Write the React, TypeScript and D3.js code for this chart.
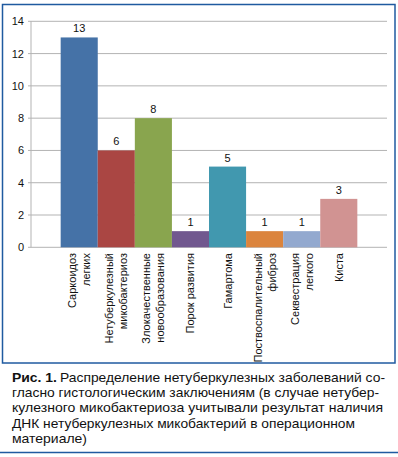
import * as d3 from 'd3'
import React from 'react'

// categories (two-line labels split by '|')
const categories = [
  'Саркоидоз|легких',
  'Нетуберкулезный|микобактериоз',
  'Злокачественные|новообразования',
  'Порок развития',
  'Гамартома',
  'Поствоспалительный|фиброз',
  'Секвестрация|легкого',
  'Киста',
]
const values = [13, 6, 8, 1, 5, 1, 1, 3]
const barColors = ['#4572a7', '#aa4643', '#89a54e', '#71588f', '#4198af', '#db843d', '#93a9cf', '#d19392']
const yTicks = [0, 2, 4, 6, 8, 10, 12, 14]

// caption lines with their target right edge
const captionLines = [
  { text: 'Распределение нетуберкулезных заболеваний со-', end: 385 },
  { text: 'гласно гистологическим заключениям (в случае нетубер-', end: 379 },
  { text: 'кулезного микобактериоза учитывали результат наличия', end: 383 },
  { text: 'ДНК нетуберкулезных микобактерий в операционном', end: 355 },
  { text: 'материале)', end: 87 },
]

const font = '"Liberation Sans", Arial, sans-serif'

export default function App() {
  const left = 31
  const right = 387
  const top = 21.3
  const bottom = 247.3

  const x = d3.scaleBand<string>().domain(categories).range([left, right]).paddingInner(0).paddingOuter(0.8)
  const y = d3.scaleLinear().domain([0, 14]).range([bottom, top])

  return (
    <svg width={398} height={457} style={{ position: 'absolute', left: 0, top: 0, background: '#fff' }}>
      {/* frame */}
      <rect x={2.5} y={4.5} width={392.5} height={358.5} fill="none" stroke="#1f5aa0" strokeWidth={1.5} />

      {/* grid */}
      {yTicks.map(t => (
        <g key={t}>
          <line x1={left - 3} x2={right} y1={y(t)} y2={y(t)} stroke="#b3b3b3" strokeWidth={1} />
          <text x={24} y={y(t) + 4} textAnchor="end" fontFamily={font} fontSize={11} fill="#111">
            {t}
          </text>
        </g>
      ))}
      <line x1={left} x2={left} y1={top} y2={bottom} stroke="#b3b3b3" strokeWidth={1} />

      {/* bars */}
      {categories.map((c, i) => (
        <g key={c}>
          <rect x={x(c)} y={y(values[i])} width={x.bandwidth()} height={bottom - y(values[i])} fill={barColors[i]} />
          <text
            x={(x(c) ?? 0) + x.bandwidth() / 2}
            y={y(values[i]) - 5}
            textAnchor="middle"
            fontFamily={font}
            fontSize={11}
            fill="#111"
          >
            {values[i]}
          </text>
        </g>
      ))}

      {/* category labels */}
      {categories.map(c => {
        const lines = c.split('|')
        const cx = (x(c) ?? 0) + x.bandwidth() / 2
        return lines.map((ln, j) => {
          const lx = cx + 4 + (j - (lines.length - 1) / 2) * 14
          return (
            <text
              key={c + j}
              transform={`translate(${lx},253) rotate(-90)`}
              textAnchor="end"
              fontFamily={font}
              fontSize={11}
              fill="#111"
            >
              {ln}
            </text>
          )
        })
      })}

      {/* caption */}
      <text x={12} y={382} fontFamily={font} fontSize={13} fontWeight="bold" fill="#111" textLength={45} lengthAdjust="spacingAndGlyphs">
        Рис. 1.
      </text>
      {captionLines.map((l, i) => {
        const sx = i === 0 ? 60 : 12
        return (
          <text
            key={i}
            x={sx}
            y={382 + i * 15.2}
            fontFamily={font}
            fontSize={13}
            fill="#111"
            textLength={l.end - sx}
            lengthAdjust="spacingAndGlyphs"
          >
            {l.text}
          </text>
        )
      })}
      <line x1={0} x2={398} y1={452.5} y2={452.5} stroke="#1f5aa0" strokeWidth={1.5} />
    </svg>
  )
}
